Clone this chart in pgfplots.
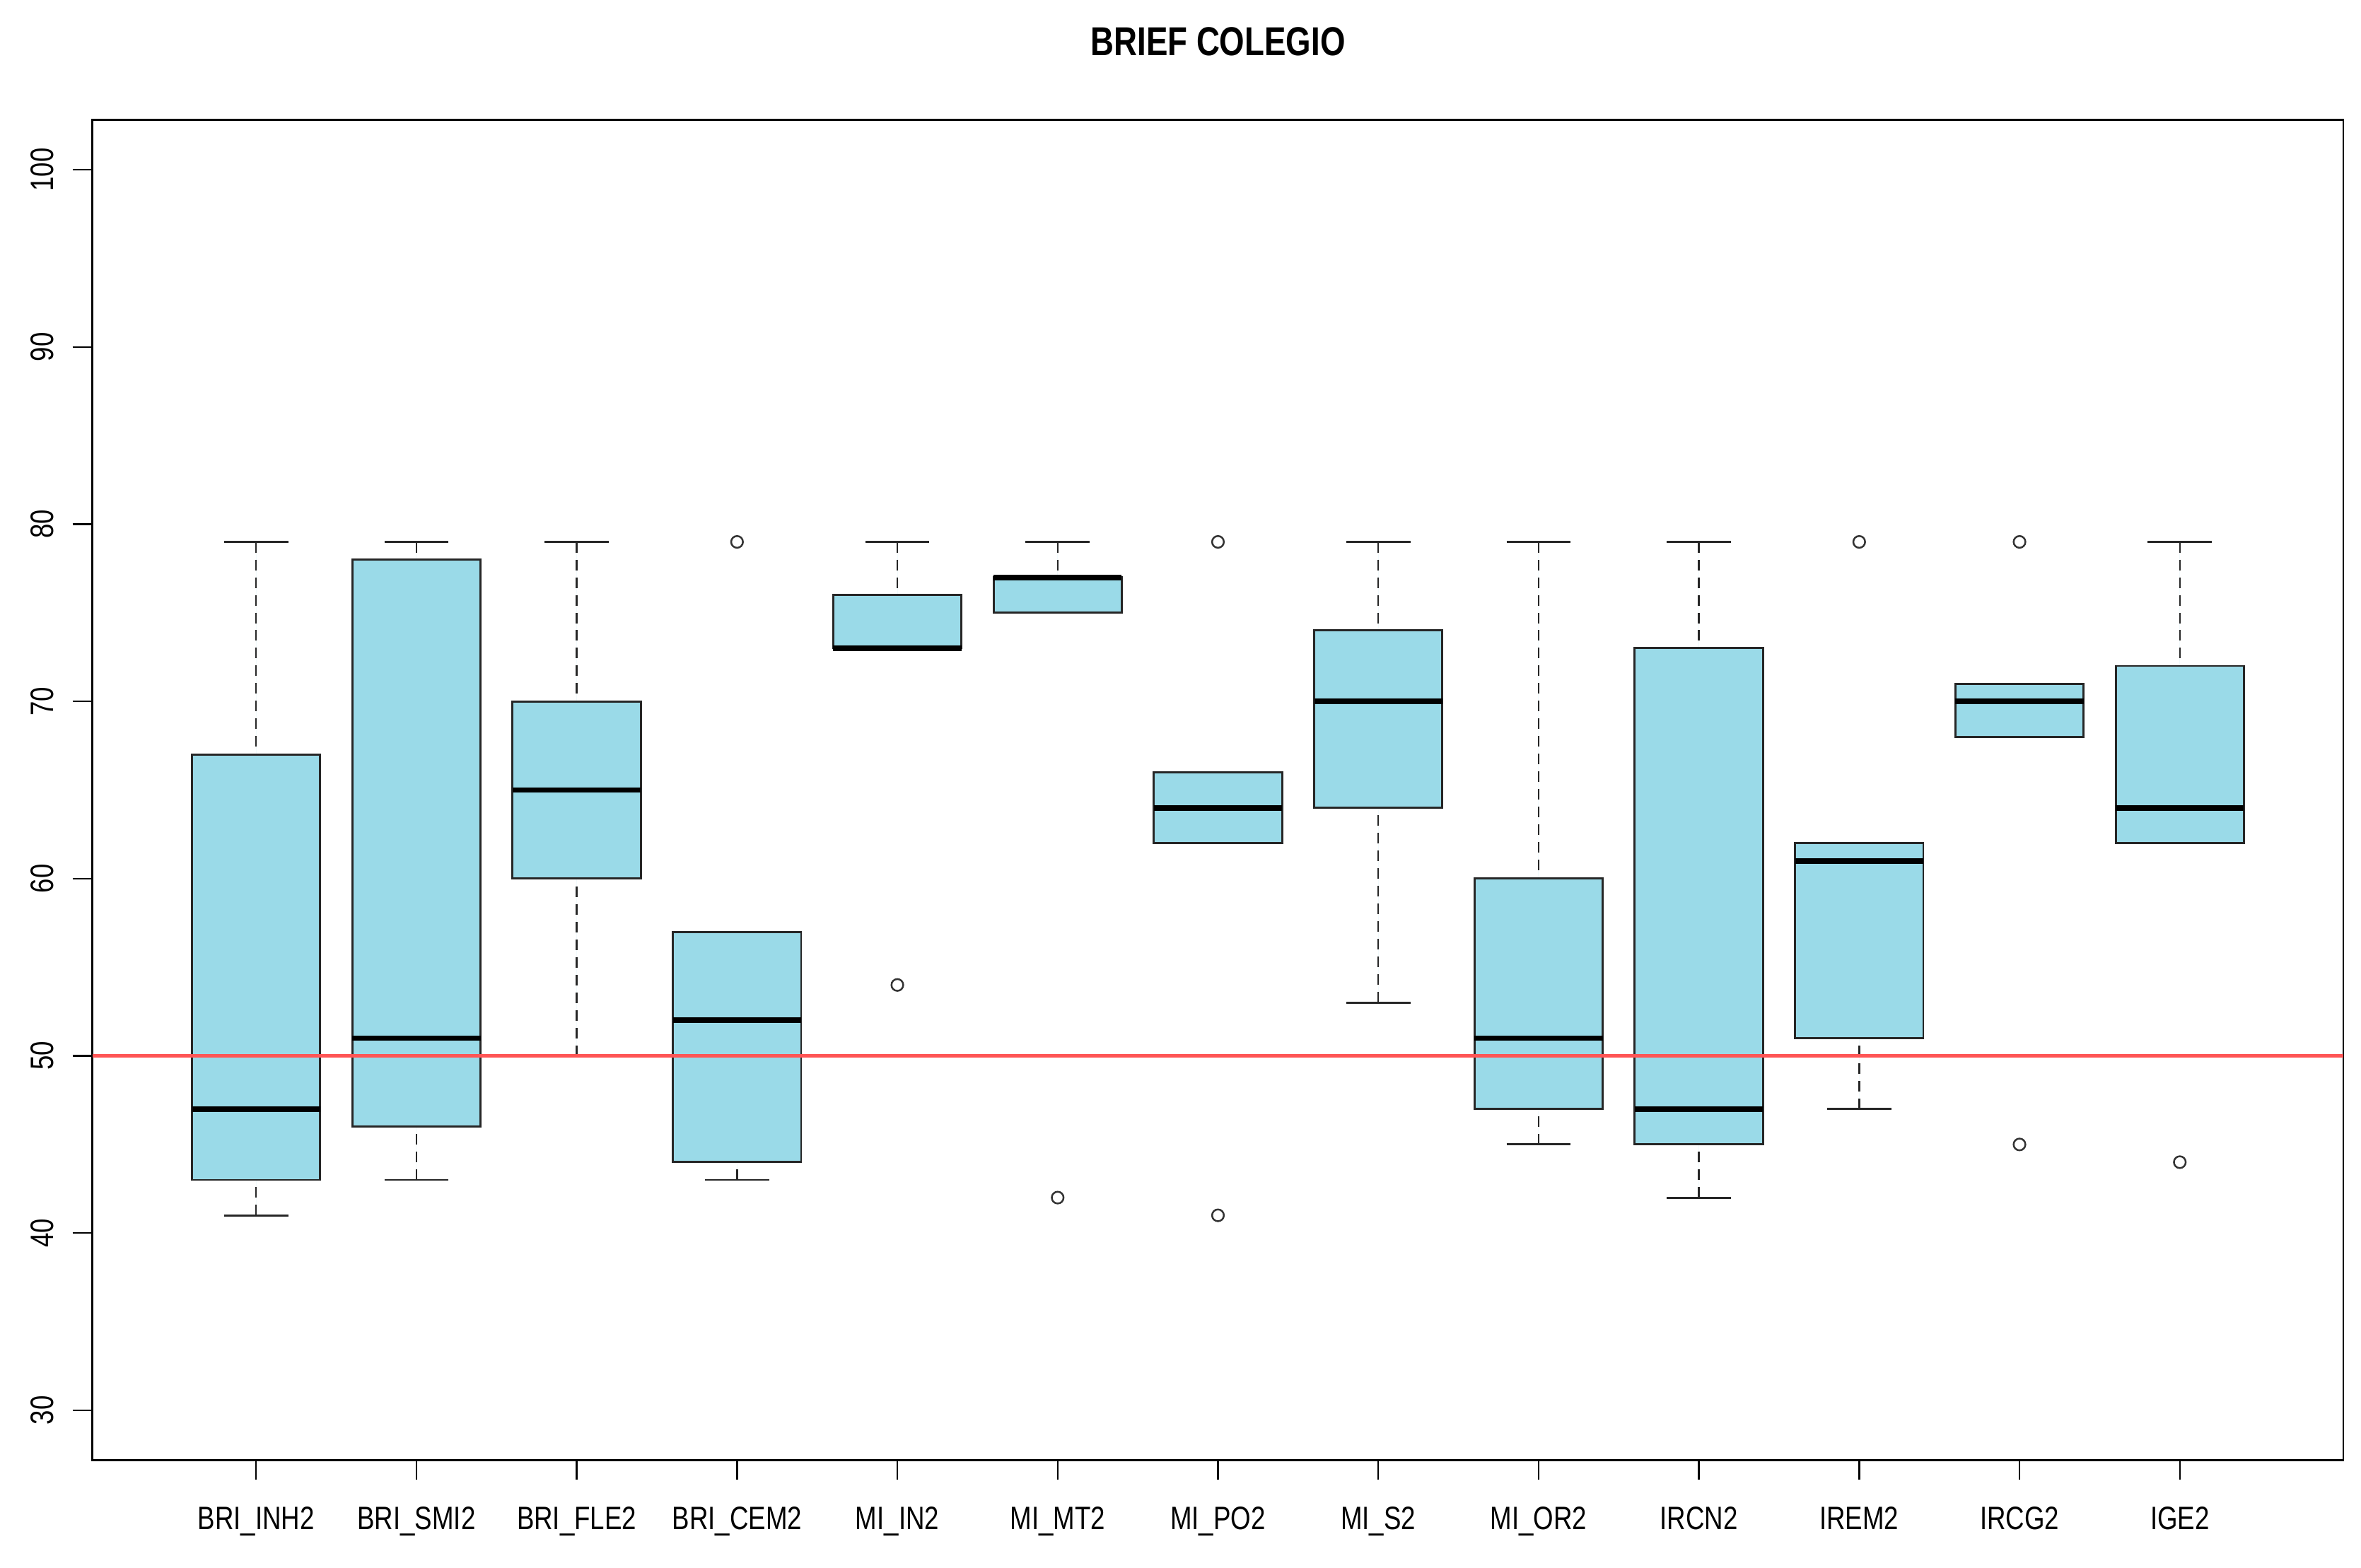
\documentclass[border=0pt]{standalone}
\usepackage{fontspec}
\setmainfont{Liberation Sans}[FakeStretch=0.8]
\usepackage{pgfplots}
\pgfplotsset{compat=1.18}
\usepgfplotslibrary{statistics}
\definecolor{boxfill}{RGB}{154,218,232}
\definecolor{redline}{RGB}{255,85,85}
\tikzset{
  whiskdash/.style={dash pattern=on 3.6pt off 2.4pt, line width=0.6pt, draw=black!85},
  whiskcap/.style={solid, line width=0.7pt, draw=black!85},
}
\pgfplotsset{
  /pgfplots/boxplot/draw/lower whisker/.code={%
    \draw[whiskdash] (boxplot cs:\pgfplotsboxplotvalue{lower whisker}) -- (boxplot cs:\pgfplotsboxplotvalue{lower quartile});
    \draw[whiskcap] (boxplot whisker cs:\pgfplotsboxplotvalue{lower whisker},0) -- (boxplot whisker cs:\pgfplotsboxplotvalue{lower whisker},1);
  },
  /pgfplots/boxplot/draw/upper whisker/.code={%
    \draw[whiskdash] (boxplot cs:\pgfplotsboxplotvalue{upper whisker}) -- (boxplot cs:\pgfplotsboxplotvalue{upper quartile});
    \draw[whiskcap] (boxplot whisker cs:\pgfplotsboxplotvalue{upper whisker},0) -- (boxplot whisker cs:\pgfplotsboxplotvalue{upper whisker},1);
  },
  bx/.style={fill=boxfill, draw=black!85, line width=0.7pt, mark=o, mark size=2pt,
    mark options={solid, fill=none, draw=black!80, line width=0.6pt}},
}
\begin{document}
\begin{tikzpicture}
\begin{axis}[
  name=ax,
  scale only axis, width=764.2pt, height=455pt,
  xmin=-0.02, xmax=14.02, ymin=27.2, ymax=102.8,
  xtick={1,2,3,4,5,6,7,8,9,10,11,12,13},
  xticklabels={BRI\_INH2,BRI\_SMI2,BRI\_FLE2,BRI\_CEM2,MI\_IN2,MI\_MT2,MI\_PO2,MI\_S2,MI\_OR2,IRCN2,IREM2,IRCG2,IGE2},
  ytick={30,40,50,60,70,80,90,100},
  tick align=outside, xtick pos=bottom, ytick pos=left,
  major tick length=6.8pt,
  tick style={black, line width=0.6pt},
  axis line style={black, line width=0.7pt},
  ticklabel style={font=\fontsize{11}{13}\selectfont, inner sep=0pt},
  xticklabel style={anchor=north},
  yticklabel style={rotate=90, anchor=south},
  xticklabel shift=9pt,
  yticklabel shift=6.2pt,
  /pgf/number format/assume math mode=true,
  boxplot/draw direction=y,
  boxplot/box extend=0.8,
  boxplot/whisker extend=0.4,
  boxplot/every median/.style={draw=black, line width=1.9pt},
  title={BRIEF COLEGIO},
  title style={at={(0.5,1)}, anchor=base, yshift=15.9pt, inner sep=0pt, font=\fontsize{13.7}{16}\selectfont\bfseries},
]
\addplot[bx, boxplot prepared={draw position=1, lower whisker=41, lower quartile=43, median=47, upper quartile=67, upper whisker=79}] coordinates {};
\addplot[bx, boxplot prepared={draw position=2, lower whisker=43, lower quartile=46, median=51, upper quartile=78, upper whisker=79}] coordinates {};
\addplot[bx, boxplot prepared={draw position=3, lower whisker=50, lower quartile=60, median=65, upper quartile=70, upper whisker=79}] coordinates {};
\addplot[bx, boxplot prepared={draw position=4, lower whisker=43, lower quartile=44, median=52, upper quartile=57, upper whisker=57}] table[row sep=\\, y index=0] {y\\ 79\\};
\addplot[bx, boxplot prepared={draw position=5, lower whisker=73, lower quartile=73, median=73, upper quartile=76, upper whisker=79}] table[row sep=\\, y index=0] {y\\ 54\\};
\addplot[bx, boxplot prepared={draw position=6, lower whisker=75, lower quartile=75, median=77, upper quartile=77, upper whisker=79}] table[row sep=\\, y index=0] {y\\ 42\\};
\addplot[bx, boxplot prepared={draw position=7, lower whisker=62, lower quartile=62, median=64, upper quartile=66, upper whisker=66}] table[row sep=\\, y index=0] {y\\ 79\\ 41\\};
\addplot[bx, boxplot prepared={draw position=8, lower whisker=53, lower quartile=64, median=70, upper quartile=74, upper whisker=79}] coordinates {};
\addplot[bx, boxplot prepared={draw position=9, lower whisker=45, lower quartile=47, median=51, upper quartile=60, upper whisker=79}] coordinates {};
\addplot[bx, boxplot prepared={draw position=10, lower whisker=42, lower quartile=45, median=47, upper quartile=73, upper whisker=79}] coordinates {};
\addplot[bx, boxplot prepared={draw position=11, lower whisker=47, lower quartile=51, median=61, upper quartile=62, upper whisker=62}] table[row sep=\\, y index=0] {y\\ 79\\};
\addplot[bx, boxplot prepared={draw position=12, lower whisker=68, lower quartile=68, median=70, upper quartile=71, upper whisker=71}] table[row sep=\\, y index=0] {y\\ 79\\ 45\\};
\addplot[bx, boxplot prepared={draw position=13, lower whisker=62, lower quartile=62, median=64, upper quartile=72, upper whisker=79}] table[row sep=\\, y index=0] {y\\ 44\\};
\addplot[draw=redline, line width=1pt, mark=none] coordinates {(-0.02,50) (14.02,50)};
\end{axis}
\path ([shift={(-31.44pt,-36.48pt)}]ax.south west) rectangle ([shift={(6pt,40.8pt)}]ax.north east);
\end{tikzpicture}
\end{document}
